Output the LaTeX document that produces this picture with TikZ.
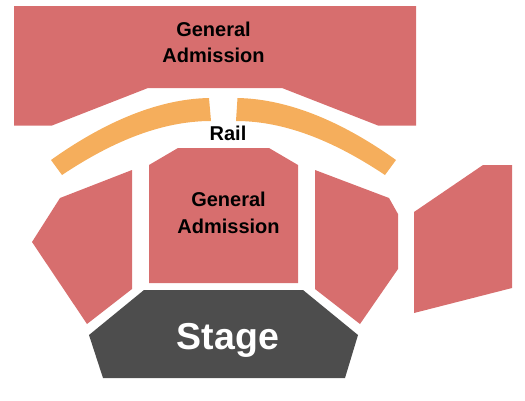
\documentclass[tikz,border=0pt]{standalone}
\usepackage{fontspec}
\setmainfont{Liberation Sans}
\definecolor{seat}{HTML}{D76E6E}
\definecolor{rail}{HTML}{F5AE5C}
\definecolor{stage}{HTML}{4D4D4D}
\tikzset{
  seatarea/.style={fill=seat,draw=none},
  railarea/.style={fill=rail,draw=none},
  stagearea/.style={fill=stage,draw=none},
  seatlabel/.style={font=\fontsize{20}{26}\selectfont\bfseries,align=center,inner sep=0pt,text=black},
  seatlabelwide/.style={font=\fontsize{20}{27}\selectfont\bfseries,align=center,inner sep=0pt,text=black},
  raillabel/.style={font=\fontsize{20}{26}\selectfont\bfseries,inner sep=0pt,anchor=base,text=black},
  stagelabel/.style={font=\fontsize{37.5}{40}\selectfont\bfseries,inner sep=0pt,anchor=base,text=white}
}
\begin{document}
\begin{tikzpicture}[x=1pt,y=-1pt]
\useasboundingbox (0,0) rectangle (525,400);
\path[seatarea] (14,6) -- (416,6) -- (416,125.5) -- (378,125.5) -- (282,88) -- (148,88) -- (52,125.5) -- (14,125.5) -- cycle;
\path[railarea] (51,160) .. controls (100,125) and (155,99) .. (209,98) -- (211,121) .. controls (160,121) and (110,143) .. (62,175) -- cycle;
\path[railarea] (396,160) .. controls (347,125) and (292,99) .. (237.5,98) -- (236,121) .. controls (287,121) and (337,143) .. (385,175) -- cycle;
\path[seatarea] (149,165) -- (178,148) -- (269,148) -- (298,165) -- (298,283) -- (149,283) -- cycle;
\path[seatarea] (132,170) -- (60,198) -- (32,242) -- (87,324) -- (132,289) -- cycle;
\path[seatarea] (315,170) -- (389,198) -- (398,214) -- (398,269) -- (360,324) -- (315,289) -- cycle;
\path[seatarea] (414,212) -- (483,165) -- (512,165) -- (512,288) -- (414,313) -- cycle;
\path[stagearea] (144,290) -- (89,335) -- (103,378) -- (345,378) -- (358,335) -- (303,290) -- cycle;
\node[seatlabel] (gatop) at (213.5,42) {General\\Admission};
\node[seatlabelwide] (gacenter) at (228.5,212.5) {General\\Admission};
\node[raillabel] (raillab) at (228,140) {Rail};
\node[stagelabel] (stagelab) at (228,349) {Stage};
\end{tikzpicture}
\end{document}
